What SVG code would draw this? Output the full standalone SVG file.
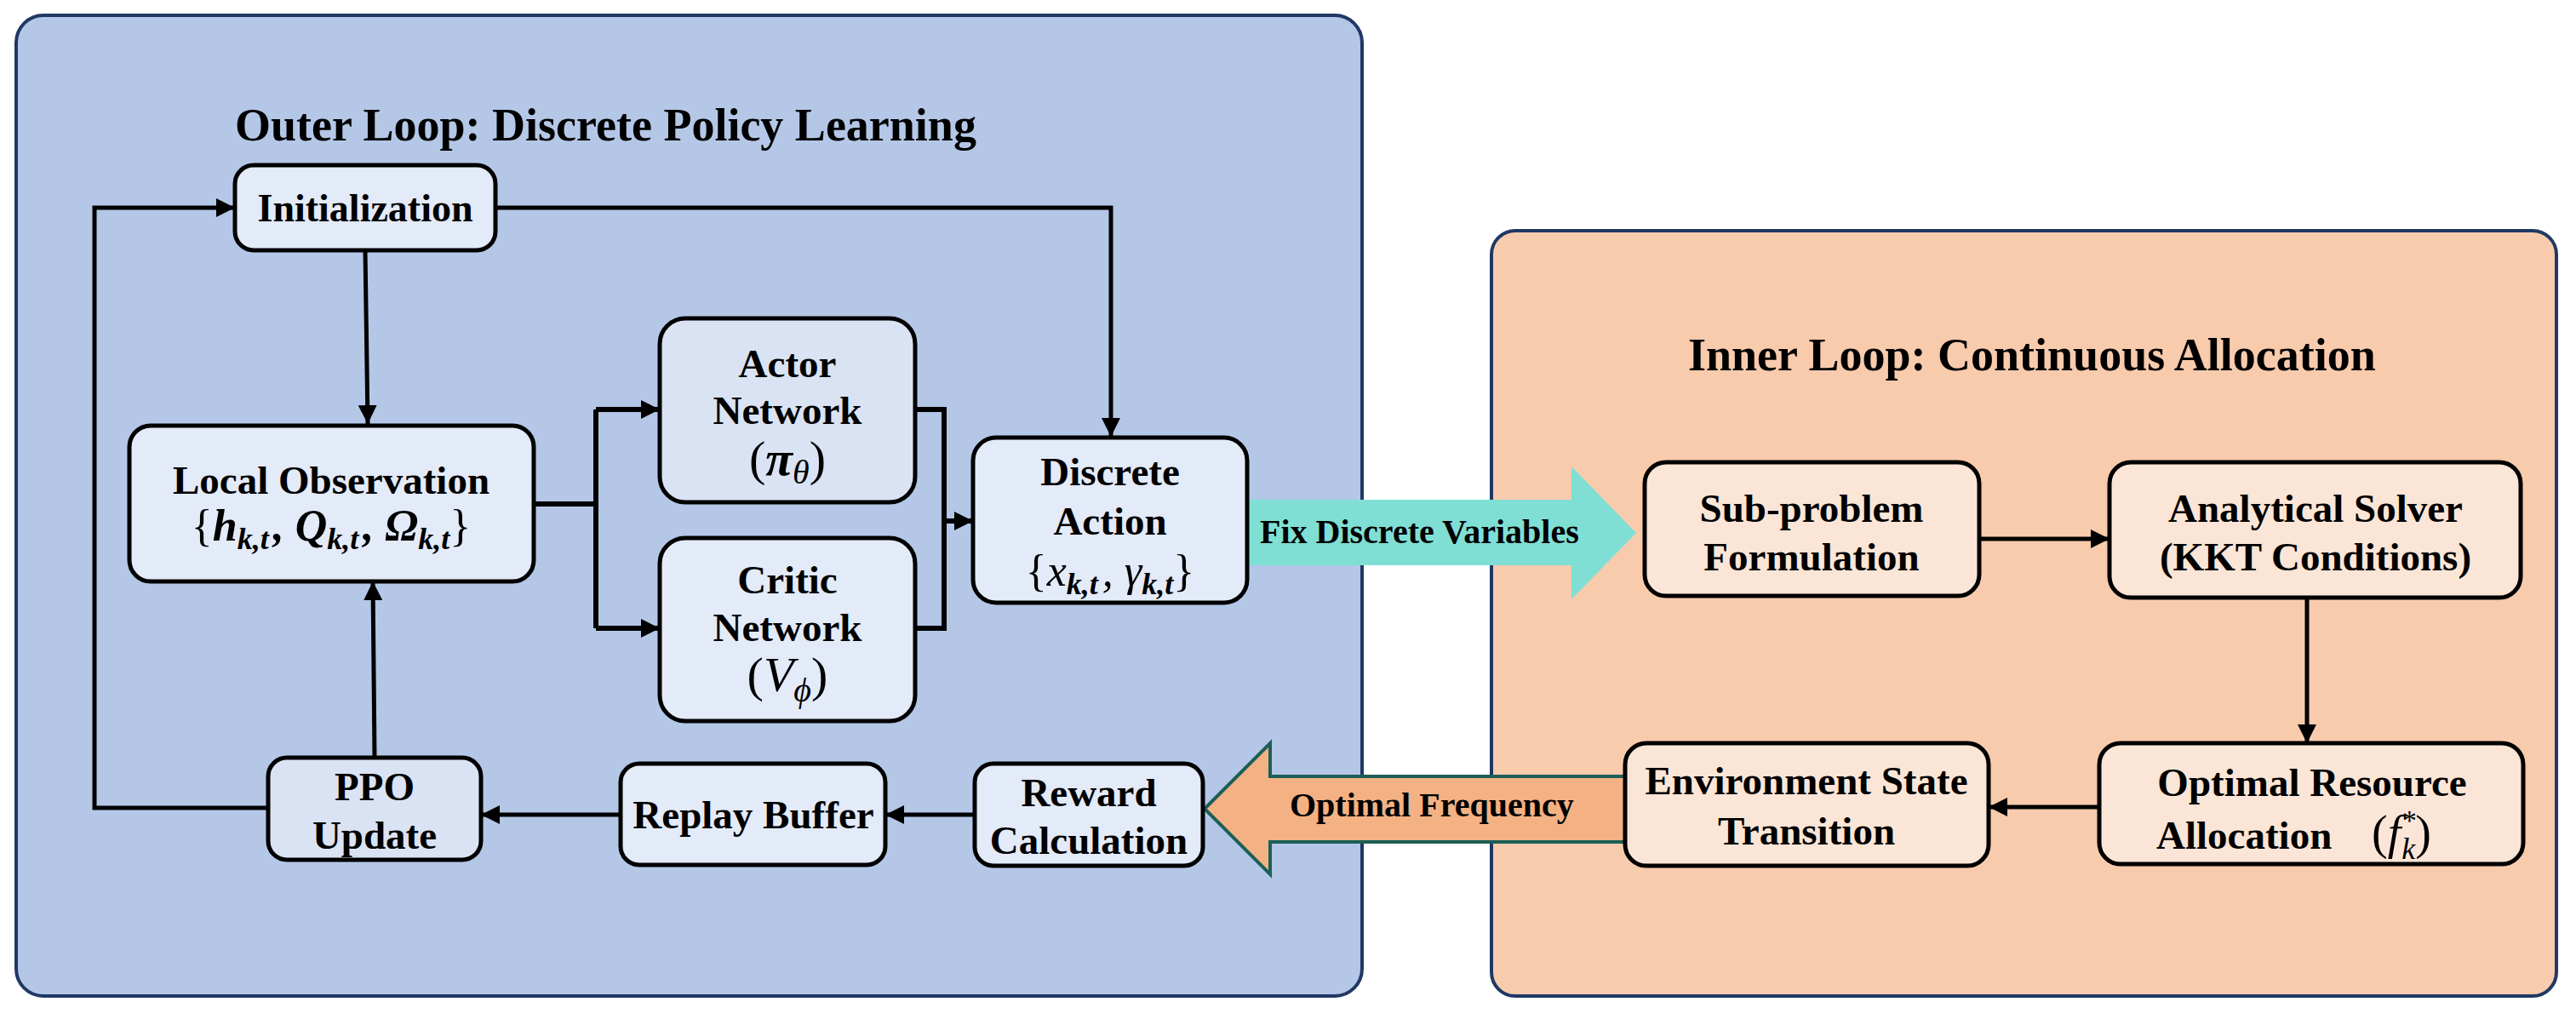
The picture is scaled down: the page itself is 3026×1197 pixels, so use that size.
<svg xmlns="http://www.w3.org/2000/svg" width="3026" height="1197" viewBox="0 0 3026 1197">
<defs>
<style>
.panel{stroke:#203864;stroke-width:4}
.nb{fill:#E3EAF8;stroke:#000;stroke-width:5}
.nb2{fill:#DAE3F3;stroke:#000;stroke-width:5}
.no{fill:#FBE5D6;stroke:#000;stroke-width:5}
.t{font-family:"Liberation Serif","Times New Roman",serif;font-weight:bold;font-size:47px;fill:#000;text-anchor:middle}
.title{font-family:"Liberation Serif","Times New Roman",serif;font-weight:bold;font-size:54px;fill:#000}
.lbl{font-family:"Liberation Serif","Times New Roman",serif;font-weight:bold;font-size:40px;fill:#000}
.m{font-family:"Liberation Serif","Times New Roman",serif;fill:#000;text-anchor:middle}
.bi{font-weight:bold;font-style:italic}
.it{font-style:italic;font-weight:normal}
.rg{font-weight:normal;font-style:normal}
.c{fill:none;stroke:#000;stroke-width:5}
.c2{fill:none;stroke:#000;stroke-width:6}
</style>
<marker id="ah" markerUnits="userSpaceOnUse" markerWidth="22" markerHeight="22" refX="22" refY="11" orient="auto">
<path d="M0,0 L22,11 L0,22 z" fill="#000"/>
</marker>
</defs>
<rect width="3026" height="1197" fill="#fff"/>

<g id="outer-panel">
<rect class="panel" x="19" y="18" width="1581" height="1152" rx="32" fill="#B4C7E7"/>
<text class="title" x="276" y="165">Outer Loop: Discrete Policy Learning</text>
</g>
<g id="inner-panel">
<rect class="panel" x="1752" y="271" width="1251" height="899" rx="28" fill="#F8CBAD"/>
<text class="title" x="1983" y="435">Inner Loop: Continuous Allocation</text>
</g>

<g id="connectors">
<path class="c" d="M582,244 H1305 V513" marker-end="url(#ah)"/>
<path class="c" d="M429,294 L432,498" marker-end="url(#ah)"/>
<path class="c2" d="M627,592 H700"/>
<path class="c2" d="M700,481 V738"/>
<path class="c2" d="M700,481 H775" marker-end="url(#ah)"/>
<path class="c2" d="M700,738 H775" marker-end="url(#ah)"/>
<path class="c2" d="M1075,481 H1109 V738 H1075"/>
<path class="c2" d="M1109,612 H1143" marker-end="url(#ah)"/>
<path class="c" d="M440,890 L438,683" marker-end="url(#ah)"/>
<path class="c" d="M315,949 H111 V244 H276" marker-end="url(#ah)"/>
<path class="c" d="M729,957 H565" marker-end="url(#ah)"/>
<path class="c" d="M1145,957 H1040" marker-end="url(#ah)"/>
<path class="c" d="M2325,633 H2478" marker-end="url(#ah)"/>
<path class="c" d="M2710,702 V873" marker-end="url(#ah)"/>
<path class="c" d="M2466,948 H2336" marker-end="url(#ah)"/>
<g id="fix-arrow">
<path d="M1467,587 H1846 V548 L1922,626 L1846,704 V664 H1467 z" fill="#7FDFD5"/>
<text class="lbl" x="1480" y="638">Fix Discrete Variables</text>
</g>
<g id="freq-arrow">
<path d="M1909,912 H1492 V873 L1415,950 L1492,1027 V989 H1909" fill="#F4B183" stroke="#1D5F57" stroke-width="4"/>
<text class="lbl" x="1515" y="959">Optimal Frequency</text>
</g>
</g>

<g id="initialization">
<rect class="nb" x="276" y="194" width="306" height="100" rx="22"/>
<text class="t" x="429" y="260" style="font-size:46px">Initialization</text>
</g>
<g id="local-observation">
<rect class="nb" x="152" y="500" width="475" height="183" rx="25"/>
<text class="t" x="389" y="580">Local Observation</text>
<text class="m" x="389" y="635" font-size="52"><tspan class="rg">{</tspan><tspan class="bi">h</tspan><tspan class="bi" font-size="36" dy="10">k,t</tspan><tspan class="bi" dx="5" dy="-10">, Q</tspan><tspan class="bi" font-size="36" dy="10">k,t</tspan><tspan class="bi" dx="5" dy="-10">, Ω</tspan><tspan class="bi" font-size="36" dy="10">k,t</tspan><tspan class="rg" dy="-10">}</tspan></text>
</g>
<g id="actor-network">
<rect class="nb2" x="775" y="374" width="300" height="216" rx="30"/>
<text class="t" x="925" y="443">Actor</text>
<text class="t" x="925" y="498">Network</text>
<text class="m" x="925" y="558" font-size="58"><tspan class="rg">(</tspan><tspan class="bi">π</tspan><tspan class="it" font-size="40" dy="10">θ</tspan><tspan class="rg" dy="-10">)</tspan></text>
</g>
<g id="critic-network">
<rect class="nb" x="775" y="632" width="300" height="215" rx="30"/>
<text class="t" x="925" y="697">Critic</text>
<text class="t" x="925" y="753">Network</text>
<text class="m" x="925" y="812" font-size="58"><tspan class="rg">(</tspan><tspan class="it">V</tspan><tspan class="it" font-size="40" dy="12">ϕ</tspan><tspan class="rg" dy="-12">)</tspan></text>
</g>
<g id="discrete-action">
<rect class="nb" x="1143" y="514" width="322" height="194" rx="27"/>
<text class="t" x="1304" y="570">Discrete</text>
<text class="t" x="1304" y="628">Action</text>
<text class="m" x="1304" y="688" font-size="52"><tspan class="rg">{</tspan><tspan class="it">x</tspan><tspan class="bi" font-size="36" dy="10">k,t</tspan><tspan class="it" dx="5" dy="-10">, γ</tspan><tspan class="bi" font-size="36" dy="10">k,t</tspan><tspan class="rg" dy="-10">}</tspan></text>
</g>
<g id="ppo-update">
<rect class="nb2" x="315" y="890" width="250" height="120" rx="22"/>
<text class="t" x="440" y="940">PPO</text>
<text class="t" x="440" y="997">Update</text>
</g>
<g id="replay-buffer">
<rect class="nb" x="729" y="897" width="311" height="119" rx="22"/>
<text class="t" x="885" y="973">Replay Buffer</text>
</g>
<g id="reward-calculation">
<rect class="nb" x="1145" y="897" width="268" height="120" rx="22"/>
<text class="t" x="1279" y="947">Reward</text>
<text class="t" x="1279" y="1003">Calculation</text>
</g>
<g id="sub-problem">
<rect class="no" x="1932" y="543" width="393" height="157" rx="25"/>
<text class="t" x="2128" y="613">Sub-problem</text>
<text class="t" x="2128" y="670">Formulation</text>
</g>
<g id="analytical-solver">
<rect class="no" x="2478" y="543" width="483" height="159" rx="25"/>
<text class="t" x="2720" y="613">Analytical Solver</text>
<text class="t" x="2720" y="670">(KKT Conditions)</text>
</g>
<g id="environment-state">
<rect class="no" x="1909" y="873" width="427" height="144" rx="25"/>
<text class="t" x="2122" y="933">Environment State</text>
<text class="t" x="2122" y="992">Transition</text>
</g>
<g id="optimal-resource">
<rect class="no" x="2466" y="873" width="498" height="142" rx="25"/>
<text class="t" x="2716" y="935">Optimal Resource</text>
<text class="t" x="2533" y="997" style="text-anchor:start">Allocation</text>
<text class="m" x="2786" y="997" font-size="56" style="text-anchor:start"><tspan class="rg">(</tspan><tspan class="it">f</tspan><tspan class="it" font-size="34" dy="-22">*</tspan><tspan class="it" font-size="36" dx="-16" dy="34">k</tspan><tspan class="rg" dy="-12">)</tspan></text>
</g>
</svg>
